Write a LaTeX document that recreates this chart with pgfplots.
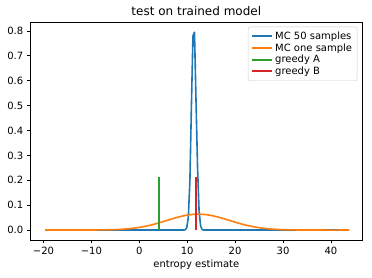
\documentclass[border=0pt]{standalone}
\usepackage{fontspec}
\setmainfont{DejaVu Sans}
\usepackage{pgfplots}
\pgfplotsset{compat=1.18}
\definecolor{c0}{HTML}{1F77B4}
\definecolor{c1}{HTML}{FF7F0E}
\definecolor{c2}{HTML}{2CA02C}
\definecolor{c3}{HTML}{D62728}
\begin{document}
\begin{tikzpicture}[x=1pt,y=1pt]
\useasboundingbox (-30.3pt,-38pt) rectangle (341.7pt,240pt);
\begin{axis}[
  at={(0pt,0pt)}, anchor=south west,
  scale only axis, width=332pt, height=217.7pt,
  xmin=-22.75, xmax=46.55, ymin=-0.04, ymax=0.835,
  xtick={-20,-10,0,10,20,30,40},
  xticklabels={−20,−10,0,10,20,30,40},
  ytick={0,0.1,0.2,0.3,0.4,0.5,0.6,0.7,0.8},
  yticklabel style={/pgf/number format/.cd,fixed,fixed zerofill,precision=1},
  /pgf/number format/assume math mode=true,
  tick align=outside, tick pos=left,
  major tick length=3.5pt,
  every tick/.style={black, line width=0.8pt},
  axis line style={line width=0.8pt},
  ticklabel style={font=\fontsize{10}{12}\selectfont},
  title={test on trained model},
  title style={font=\fontsize{12}{14}\selectfont, yshift=-3pt},
  xlabel={entropy estimate},
  xlabel style={font=\fontsize{10}{12}\selectfont, yshift=2pt},
  every axis plot/.append style={line width=1.6pt, line join=round},
  legend style={at={(0.985,0.98)}, anchor=north east, draw=black!20, rounded corners=2pt,
    font=\fontsize{10}{12}\selectfont, row sep=-1.5pt, inner sep=3pt},
  legend cell align=left,
  legend image code/.code={\draw[#1, line width=2pt] (0pt,0pt) -- (20pt,0pt);},
]
\addplot[c0] coordinates {
(-19.6,0) (9.28,0) (9.6,0.0012) (9.92,0.010) (10.24,0.054) (10.56,0.195) (10.88,0.50)
(11.2,0.78) (11.52,0.795) (11.84,0.52) (12.16,0.251) (12.48,0.077) (12.8,0.016)
(13.12,0.002) (13.44,0) (43.8,0)};
\addlegendentry{MC 50 samples}
\addplot[c1, smooth] coordinates {
(-19.6,0) (-16,0) (-12,0.00006) (-8,0.0005) (-6,0.0012) (-4,0.0028) (-2,0.0057)
(0,0.0107) (2,0.0182) (4,0.0283) (6,0.040) (8,0.0514) (10,0.0601) (12,0.0639)
(14,0.0618) (16,0.0544) (18,0.0436) (20,0.0317) (22,0.0210) (24,0.0127)
(26,0.0069) (28,0.0035) (30,0.0016) (32,0.0006) (34,0.0002) (38,0) (43.8,0)};
\addlegendentry{MC one sample}
\addplot[c2] coordinates {(4.15,0) (4.15,0.212)};
\addlegendentry{greedy A}
\addplot[c3] coordinates {(11.85,0) (11.85,0.212)};
\addlegendentry{greedy B}
\end{axis}
\end{tikzpicture}
\end{document}
